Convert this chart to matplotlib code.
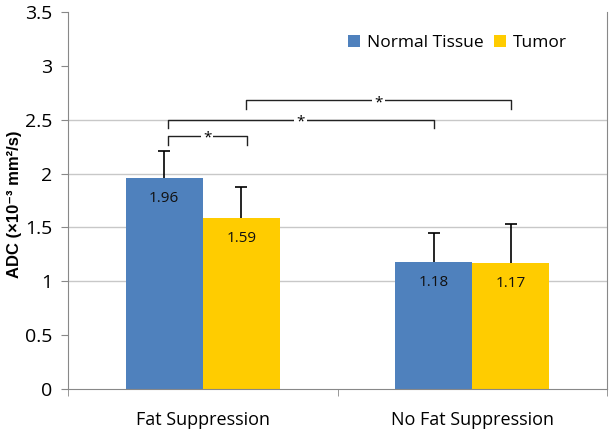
import matplotlib
matplotlib.use("Agg")
from matplotlib import pyplot as plt
import numpy as np

categories = ["Fat Suppression", "No Fat Suppression"]
normal = [1.96, 1.18]
tumor = [1.59, 1.17]
normal_err = [0.25, 0.27]
tumor_err = [0.29, 0.36]
value_labels_normal = ["1.96", "1.18"]
value_labels_tumor = ["1.59", "1.17"]
yticks = [0, 0.5, 1, 1.5, 2, 2.5, 3, 3.5]
ytick_labels = ["0", "0.5", "1", "1.5", "2", "2.5", "3", "3.5"]

blue = "#4f81bd"
yellow = "#ffcc00"

plt.rcParams["font.family"] = ["Open Sans", "DejaVu Sans"]

fig = plt.figure(figsize=(6.12, 4.34), dpi=100)
ax = fig.add_axes([0.111, 0.1037, 0.881, 0.8686])

x = np.arange(len(categories))
w = 0.2857
xb = x - w / 2
xy = x + w / 2

ax.bar(xb, normal, w, color=blue, label="Normal Tissue", zorder=2)
ax.bar(xy, tumor, w, color=yellow, label="Tumor", zorder=2)

# one-sided error bars (upper only)
cap = 0.022
for xs, vals, errs in [(xb, normal, normal_err), (xy, tumor, tumor_err)]:
    tops = np.array(vals) + np.array(errs)
    ax.vlines(xs, vals, tops, color="black", lw=1.2, zorder=3)
    ax.hlines(tops, xs - cap, xs + cap, color="black", lw=1.2, zorder=3)

for i in range(2):
    ax.text(xb[i], normal[i] - 0.19, value_labels_normal[i], ha="center",
            va="center", fontsize=11, color="#111111", zorder=4)
    ax.text(xy[i], tumor[i] - 0.19, value_labels_tumor[i], ha="center",
            va="center", fontsize=11, color="#111111", zorder=4)

# significance brackets
brackets = [
    (xb[0] + 0.013, xy[0] + 0.02, 2.35),
    (xb[0] + 0.013, xb[1], 2.50),
    (xy[0] + 0.016, xy[1], 2.68),
]
for x1, x2, y in brackets:
    ax.plot([x1, x1, x2, x2], [y - 0.08, y, y, y - 0.08], color="#222222",
            lw=1.0, zorder=3)
    ax.text((x1 + x2) / 2, y - 0.02, "*", ha="center", va="center",
            fontsize=11, zorder=4,
            bbox=dict(facecolor="white", edgecolor="none", pad=1.5))

ax.set_xlim(-0.5, 1.5)
ax.set_ylim(0, 3.5)
ax.set_yticks(yticks)
ax.set_yticklabels(ytick_labels, fontsize=14)
ax.set_xticks(x)
ax.set_xticklabels(categories, fontsize=13)
ax.set_xticks([-0.5, 0.5, 1.5], minor=True)
ax.tick_params(axis="x", which="major", length=0, pad=16)
ax.tick_params(axis="x", which="minor", length=5, color="#888888")
ax.tick_params(axis="y", length=5, color="#888888", pad=6)

for g in [1, 1.5, 2, 2.5]:
    ax.axhline(g, color="#c8c8c8", lw=1.0, zorder=1)

for s in ["left", "bottom", "right"]:
    ax.spines[s].set_color("#888888")
ax.spines["top"].set_visible(False)

ax.set_ylabel("ADC (×10⁻³ mm²/s)", fontsize=12, fontweight="bold",
              family=["Liberation Sans", "DejaVu Sans"])
ax.yaxis.set_label_coords(-0.086, 0.49)

ax.legend(loc="upper right", bbox_to_anchor=(0.955, 0.98), ncol=2,
          frameon=False, fontsize=12.5, handlelength=0.7, handleheight=0.7,
          handletextpad=0.4, columnspacing=0.6)

fig.savefig("out.png", dpi=100)
